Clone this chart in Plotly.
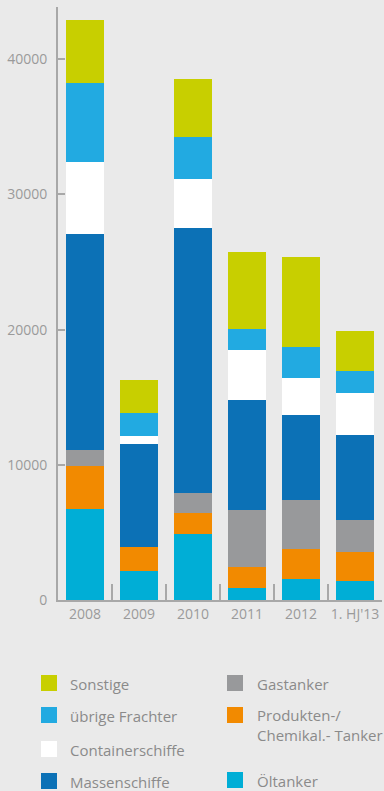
import plotly.graph_objects as go

categories = ["2008", "2009", "2010", "2011", "2012", "1. HJ'13"]

# series (bottom to top)
oeltanker = [6730, 2140, 4880, 890, 1550, 1410]
produkten = [3200, 1780, 1550, 1550, 2220, 2160]
gastanker = [1160, 0, 1480, 4220, 3630, 2350]
massenschiffe = [15980, 7620, 19600, 8130, 6280, 6280]
containerschiffe = [5320, 590, 3630, 3700, 2740, 3110]
uebrige_frachter = [5850, 1700, 3100, 1550, 2290, 1630]
sonstige = [4660, 2440, 4290, 5700, 6660, 2960]

series_names = ["Öltanker", "Produkten-/<br>Chemikal.- Tanker", "Gastanker",
                "Massenschiffe", "Containerschiffe", "übrige Frachter", "Sonstige"]
series_values = [oeltanker, produkten, gastanker, massenschiffe,
                 containerschiffe, uebrige_frachter, sonstige]
series_colors = ["#00aed6", "#f28a00", "#98999b", "#0c71b6", "#ffffff",
                 "#22aae1", "#c8cf00"]

y_ticks = [0, 10000, 20000, 30000, 40000]

W, H = 384, 791
ML, MR, MT, MB = 58, 2, 7, 191
PW = W - ML - MR
PH = H - MT - MB

BG = "#eaeaea"
AXIS = "#a8a8a8"
TICKFONT = "#9a9a9a"
LEGFONT = "#8a8a8a"

fig = go.Figure()
for name, vals, col in zip(series_names, series_values, series_colors):
    fig.add_trace(go.Bar(x=categories, y=vals, name=name, marker_color=col,
                         marker_line_width=0, showlegend=False,
                         hoverinfo="x+y+name"))

fig.update_layout(
    width=W, height=H,
    margin=dict(l=ML, r=MR, t=MT, b=MB, pad=0),
    paper_bgcolor=BG, plot_bgcolor=BG,
    barmode="stack", bargap=0.28,
    font=dict(family="Open Sans", size=14, color=TICKFONT),
    xaxis=dict(showline=True, linecolor=AXIS, linewidth=2,
               ticks="inside", tickson="boundaries", ticklen=16,
               tickwidth=1.5, tickcolor=AXIS, showgrid=False,
               tickangle=0, automargin=False,
               tickfont=dict(size=14, color=TICKFONT)),
    yaxis=dict(range=[0, 43870], showline=True, linecolor=AXIS, linewidth=2,
               ticks="inside", ticklen=7, tickwidth=2, tickcolor=AXIS,
               tickvals=y_ticks, tickformat="d", showgrid=False,
               zeroline=False, ticklabelstandoff=6, automargin=False,
               tickfont=dict(size=14, color=TICKFONT)),
)


def px_x(px):
    return (px - ML) / PW


def px_y(py):
    return (H - MB - py) / PH


# manual two-column legend
legend_left = [("Sonstige", 6, 683), ("übrige Frachter", 5, 715),
               ("Containerschiffe", 4, 749), ("Massenschiffe", 3, 781)]
legend_right = [("Gastanker", 2, 683), ("Produkten-/<br>Chemikal.- Tanker", 1, 715),
                ("Öltanker", 0, 780)]

for items, sx, tx in [(legend_left, 41, 68), (legend_right, 227, 255)]:
    for label, idx, cy in items:
        fig.add_shape(type="rect", xref="paper", yref="paper",
                      x0=px_x(sx), x1=px_x(sx + 16),
                      y0=px_y(cy + 8), y1=px_y(cy - 8),
                      fillcolor=series_colors[idx], line_width=0)
        nlines = label.count("<br>") + 1
        if nlines == 1:
            fig.add_annotation(xref="paper", yref="paper", x=px_x(tx), y=px_y(cy + 1),
                               text=label, showarrow=False, xanchor="left",
                               yanchor="middle", align="left",
                               font=dict(family="Open Sans", size=15, color=LEGFONT))
        else:
            fig.add_annotation(xref="paper", yref="paper", x=px_x(tx), y=px_y(cy - 12),
                               text=label, showarrow=False, xanchor="left",
                               yanchor="top", align="left",
                               font=dict(family="Open Sans", size=15, color=LEGFONT))

fig.write_html("out.html")
